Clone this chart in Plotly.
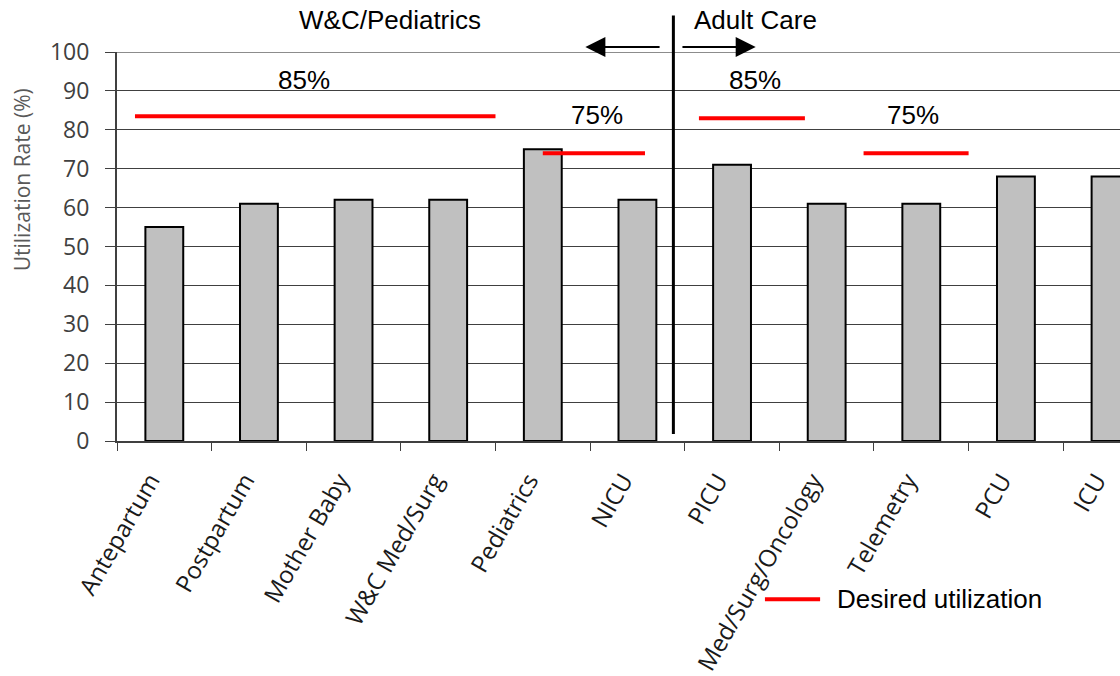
import plotly.graph_objects as go

categories = ["Antepartum", "Postpartum", "Mother Baby", "W&C Med/Surg", "Pediatrics",
              "NICU", "PICU", "Med/Surg/Oncology", "Telemetry", "PCU", "ICU"]
utilization = [55, 61, 62, 62, 75, 62, 71, 61, 61, 68, 68]

# desired utilization markers (level, start, end in category index units) and labels
target_levels = [83.5, 74, 83, 74]
target_starts = [-0.31, 4.0, 5.65, 7.39]
target_ends = [3.5, 5.08, 6.77, 8.5]
target_labels = ["85%", "75%", "85%", "75%"]
label_x = [1.48, 4.57, 6.24, 7.91]
label_y = [92.7, 83.8, 92.7, 83.8]

group_names = ["W&C/Pediatrics", "Adult Care"]
group_x = [2.39, 6.25]
divider_x = 5.38

TXT = "Liberation Sans, Arial, sans-serif"
AX = "Open Sans, sans-serif"

fig = go.Figure()
fig.add_trace(go.Bar(
    x=categories, y=utilization, width=0.4,
    marker=dict(color="#C0C0C0", line=dict(color="black", width=2)),
    showlegend=False, hoverinfo="x+y",
))

shapes = []
annotations = []
for lvl, x0, x1, lab, lx, ly in zip(target_levels, target_starts, target_ends,
                                     target_labels, label_x, label_y):
    shapes.append(dict(type="line", xref="x", yref="y", x0=x0, x1=x1, y0=lvl, y1=lvl,
                       line=dict(color="#FF0000", width=4), layer="above"))
    annotations.append(dict(text=lab, xref="x", yref="y", x=lx, y=ly, showarrow=False,
                            font=dict(family=TXT, size=26, color="black")))

# top gridline (gray)
shapes.append(dict(type="line", xref="paper", yref="y", x0=0, x1=1, y0=100, y1=100,
                   line=dict(color="#8c8c8c", width=2), layer="above"))
# divider
shapes.append(dict(type="line", xref="x", yref="paper", x0=divider_x, x1=divider_x,
                   y0=0.018, y1=1.094, line=dict(color="black", width=3), layer="above"))

for name, gx in zip(group_names, group_x):
    annotations.append(dict(text=name, xref="x", yref="paper", x=gx, y=1.081,
                            showarrow=False, yanchor="middle",
                            font=dict(family=TXT, size=26, color="black")))

# arrows
annotations.append(dict(text="", xref="x", yref="paper", x=4.45, y=1.0127,
                        axref="x", ax=5.25, ayref="pixel", ay=0, showarrow=True,
                        arrowhead=2, arrowsize=2.0, arrowwidth=2, arrowcolor="black"))
annotations.append(dict(text="", xref="x", yref="paper", x=6.25, y=1.0127,
                        axref="x", ax=5.46, ayref="pixel", ay=0, showarrow=True,
                        arrowhead=2, arrowsize=2.0, arrowwidth=2, arrowcolor="black"))

# y-axis title
annotations.append(dict(text="Utilization Rate (%)", xref="paper", yref="paper",
                        x=-0.095, y=0.672, xanchor="center", yanchor="middle",
                        textangle=-90, showarrow=False,
                        font=dict(family=AX, size=21, color="#595959")))

# legend (manual)
shapes.append(dict(type="line", xref="paper", yref="paper", x0=0.646, x1=0.701,
                   y0=-0.407, y1=-0.407, line=dict(color="#FF0000", width=4)))
annotations.append(dict(text="Desired utilization", xref="paper", yref="paper",
                        x=0.716, y=-0.407, xanchor="left", yanchor="middle",
                        showarrow=False, font=dict(family=TXT, size=26, color="black")))

fig.update_layout(
    width=1120, height=676,
    margin=dict(l=117, r=0, t=52, b=231),
    paper_bgcolor="white", plot_bgcolor="white",
    shapes=shapes, annotations=annotations,
    showlegend=False,
    xaxis=dict(
        type="category", range=[-0.5, 10.1], tickson="boundaries",
        ticks="outside", ticklen=8, tickcolor="#404040", tickwidth=1,
        showline=True, linecolor="#404040", linewidth=2,
        showgrid=False, tickangle=-60,
        ticklabelshift=-14, ticklabelstandoff=14,
        tickfont=dict(family=AX, size=24, color="#1a1a1a"),
    ),
    yaxis=dict(
        range=[0, 100], tick0=0, dtick=10,
        ticks="outside", ticklen=10, tickcolor="#404040", tickwidth=1,
        showline=True, linecolor="#404040", linewidth=2,
        showgrid=True, gridcolor="#404040", gridwidth=1,
        zeroline=False, ticklabelstandoff=11,
        tickfont=dict(family=AX, size=23, color="#404040"),
    ),
)

# remove the default 8px page margin so the figure fills the window exactly
fig.write_html("out.html", config={"displayModeBar": False},
               post_script="document.body.style.margin='0px';document.body.style.overflow='hidden';")
